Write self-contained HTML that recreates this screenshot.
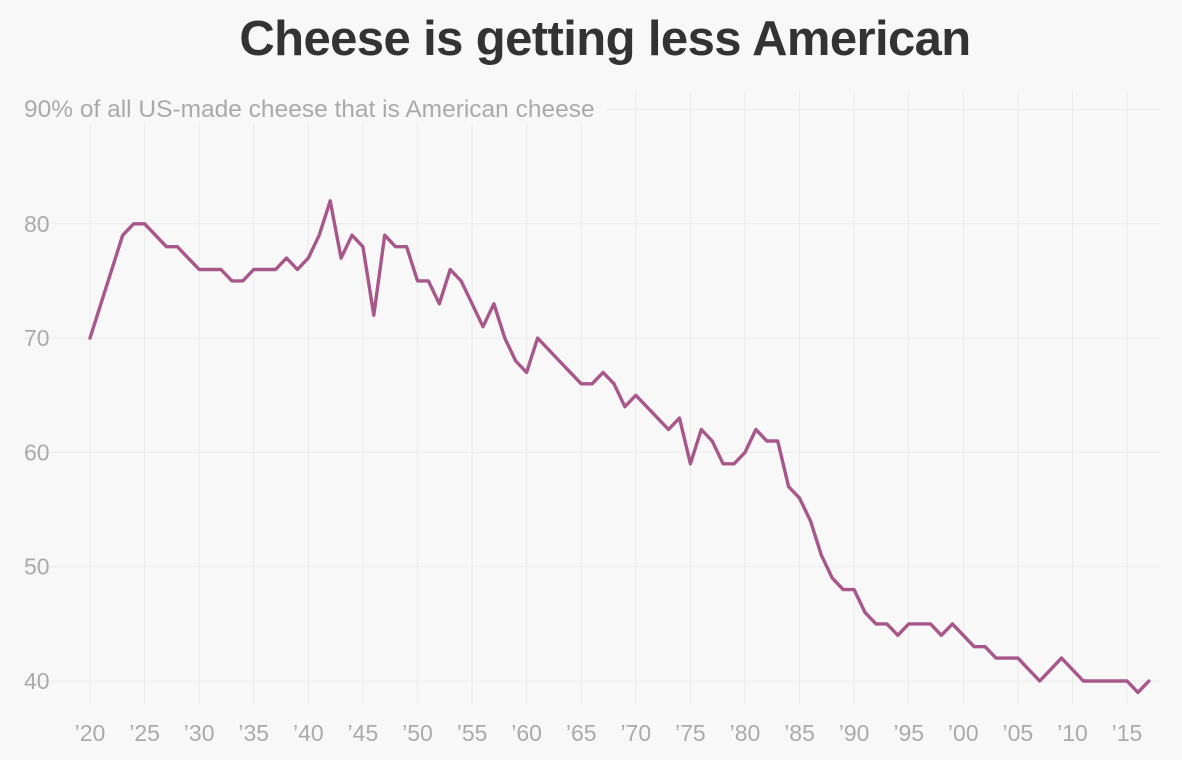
<!DOCTYPE html>
<html><head><meta charset="utf-8">
<style>
html,body{margin:0;padding:0;background:#f8f8f8;}
body{width:1182px;height:755px;overflow:hidden;font-family:"Liberation Sans",sans-serif;}
</style></head>
<body>
<svg width="1182" height="755" xmlns="http://www.w3.org/2000/svg">
<rect width="1182" height="755" fill="#f8f8f8"/>
<text x="605" y="55" text-anchor="middle" font-size="49" font-weight="bold" fill="#333" font-family="Liberation Sans, sans-serif" letter-spacing="-0.6">Cheese is getting less American</text>
<g id="grid"></g>
<g id="axes"></g>
<g id="series"></g>
</svg>
<script>
const years = [];
for (let y = 1920; y <= 2017; y++) years.push(y);
const values = [70,73,76,79,80,80,79,78,78,77,76,76,76,75,75,76,76,76,77,76,77,79,82,77,79,78,72,79,78,78,75,75,73,76,75,73,71,73,70,68,67,70,69,68,67,66,66,67,66,64,65,64,63,62,63,59,62,61,59,59,60,62,61,61,57,56,54,51,49,48,48,46,45,45,44,45,45,45,44,45,44,43,43,42,42,42,41,40,41,42,41,40,40,40,40,40,39,40];
const yTicks = [40,50,60,70,80];
const xTicks = [1920,1925,1930,1935,1940,1945,1950,1955,1960,1965,1970,1975,1980,1985,1990,1995,2000,2005,2010,2015];
const xTickLabels = ["\u201920","\u201925","\u201930","\u201935","\u201940","\u201945","\u201950","\u201955","\u201960","\u201965","\u201970","\u201975","\u201980","\u201985","\u201990","\u201995","\u201900","\u201905","\u201910","\u201915"];

const NS = "http://www.w3.org/2000/svg";
const xS = y => 90 + (y - 1920) * 10.916;
const yS = v => 681 - (v - 40) * 11.43;
function mk(tag, attrs, parent){const e=document.createElementNS(NS,tag);for(const k in attrs)e.setAttribute(k,attrs[k]);parent.appendChild(e);return e;}
const grid=document.getElementById('grid'), axes=document.getElementById('axes'), series=document.getElementById('series');

[...yTicks, 90].forEach(v=>{
  const l=mk('line',{x1:24,x2:1160,y1:yS(v),y2:yS(v),stroke:'#ebebeb','stroke-width':1},grid);
  
  
});
xTicks.forEach((t,i)=>{
  const l=mk('line',{x1:xS(t),x2:xS(t),y1:92,y2:705,stroke:'#ebebeb','stroke-width':1},grid);
  
  
  const tx=mk('text',{x:xS(t),y:741,'text-anchor':'middle','font-size':23,fill:'#aaa'},axes);
  tx.textContent=xTickLabels[i];
  
  
});
yTicks.forEach(v=>{
  const tx=mk('text',{x:24,y:yS(v)+8,'font-size':23,fill:'#aaa'},axes);
  tx.textContent=v;
  
  
});
const lab=mk('rect',{x:20,y:92,width:586,height:32,fill:'#f8f8f8'},axes);


const tt=mk('text',{x:24,y:117,'font-size':24.5,fill:'#aaa'},axes);
tt.textContent='90% of all US-made cheese that is American cheese';



const d=years.map((y,i)=>(i?'L':'M')+xS(y).toFixed(1)+','+yS(values[i]).toFixed(1)).join(' ');
const p=mk('path',{d:d,fill:'none',stroke:'#a8578a','stroke-width':3.4,'stroke-linejoin':'round','stroke-linecap':'round'},series);


</script>
</body></html>
